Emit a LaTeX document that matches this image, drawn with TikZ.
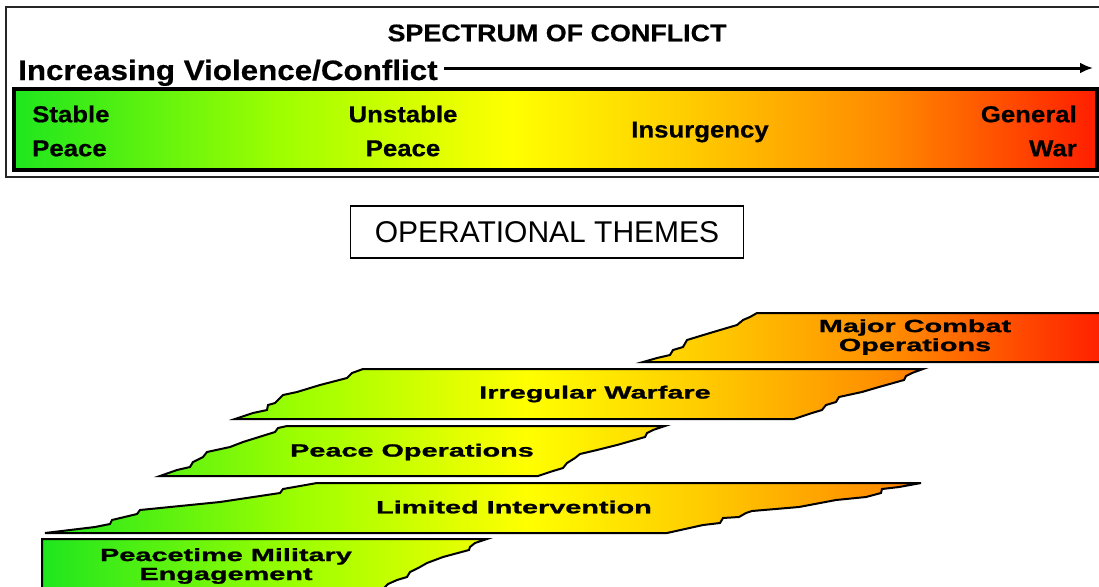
\documentclass[tikz,border=0pt]{standalone}
\usepackage{fontspec}
\setmainfont{Liberation Sans}
\newfontfamily\widefont[FakeStretch=1.12,FakeBold=0.6]{Liberation Sans}
\newfontfamily\bandfont[FakeStretch=1.63,FakeBold=1.2]{Liberation Sans}
\usepackage{tikz}
\usetikzlibrary{arrows.meta}

\definecolor{spgreen}{RGB}{30,230,30}
\definecolor{spchart}{RGB}{160,255,0}
\definecolor{spyellow}{RGB}{255,255,0}
\definecolor{spamber}{RGB}{255,205,0}
\definecolor{sporange}{RGB}{255,140,0}
\definecolor{spred}{RGB}{255,30,0}
\pgfdeclarehorizontalshading{spectrum}{100bp}{color(0bp)=(spgreen); color(25bp)=(spgreen); color(37.5bp)=(spchart); color(48bp)=(spyellow); color(56bp)=(spamber); color(65bp)=(sporange); color(75bp)=(spred); color(100bp)=(spred)}

\begin{document}
\begin{tikzpicture}[x=1pt,y=-1pt,
  plain/.style={inner sep=0pt},
  spectext/.style={inner sep=0pt,font=\widefont\bfseries\fontsize{23}{34}\selectfont},
  themetext/.style={inner sep=0pt,align=center,font=\bandfont\bfseries\fontsize{17.7}{19}\selectfont},
  theme/.style={draw=black,line width=2pt,line join=miter,
    path picture={\shade[shading=spectrum] (40,300) rectangle (1099,590);}}]
  \fill[white] (0,0) rectangle (1099,586);
  \useasboundingbox (0,0) rectangle (1099,586);

  \draw[line width=2.5pt,draw=black!85] (6,7) rectangle (1104,177);
  \shadedraw[shading=spectrum,line width=3.2pt] (14,89) rectangle (1097,170);

  \node (title) at (557,33) [plain,font=\widefont\bfseries\fontsize{24}{28}\selectfont] {SPECTRUM OF CONFLICT};
  \node (increase) at (18,80) [plain,anchor=base west,font=\widefont\bfseries\fontsize{28}{32}\selectfont] {Increasing Violence/Conflict};
  \coordinate (arrowend) at (1093,68);
  \draw[line width=3pt,-{Latex[length=13pt,width=11pt]}] ([xshift=6pt]increase.east |- arrowend) -- (arrowend);

  \node (stable) at (32,131) [spectext,anchor=west,align=left] {Stable\\Peace};
  \node (unstable) at (403,131) [spectext,align=center] {Unstable\\Peace};
  \node (insurgency) at (700,132) [spectext] {Insurgency};
  \node (general) at (1077,131) [spectext,anchor=east,align=right] {General\\War};

  \node (themes) at (547,232) [draw,line width=1.5pt,minimum width=393pt,minimum height=52pt,font=\fontsize{30}{34}\selectfont] {OPERATIONAL THEMES};

  \draw[theme] (757,313) -- (1105,313) -- (1105,362) -- (643,362) -- (657,358) -- (670,355) -- (673,350)
    -- (683,347) -- (687,340) -- (710,333) -- (737,325) -- (743,320) -- (750,317) -- cycle;
  \node (combat) at (915,337) [themetext] {Major Combat\\Operations};

  \draw[theme] (363,369) -- (923,369) -- (912,373) -- (906,376) -- (904,380) -- (879,387) -- (862,392)
    -- (839,397) -- (836,402) -- (826,405) -- (822,410) -- (812,413) -- (794,419) -- (235,419)
    -- (253,413) -- (267,410) -- (268,405) -- (275,403) -- (278,400) -- (283,395) -- (297,392)
    -- (320,385) -- (347,378) -- (352,373) -- cycle;
  \node (irregular) at (595,394) [themetext] {Irregular Warfare};

  \draw[theme] (287,426) -- (665,426) -- (653,430) -- (647,433) -- (645,437) -- (617,445) -- (597,450)
    -- (580,454) -- (575,458) -- (567,463) -- (563,468) -- (553,471) -- (538,476) -- (160,476)
    -- (177,470) -- (190,467) -- (193,462) -- (203,457) -- (207,452) -- (230,447) -- (243,442)
    -- (275,432) -- (278,428) -- cycle;
  \node (peace) at (412,452) [themetext] {Peace Operations};

  \draw[theme] (317,483) -- (921,483) -- (899,487) -- (882,489) -- (881,493) -- (866,497) -- (836,500)
    -- (799,507) -- (752,511) -- (746,513) -- (739,517) -- (723,518) -- (720,523) -- (703,525)
    -- (667,533) -- (45,533) -- (95,527) -- (110,524) -- (112,520) -- (137,514) -- (140,510)
    -- (220,502) -- (280,493) -- (283,489) -- cycle;
  \node (limited) at (514,507) [themetext] {Limited Intervention};

  \draw[theme] (42,539) -- (487,539) -- (475,543) -- (470,547) -- (469,550) -- (443,557) -- (427,563)
    -- (420,567) -- (410,572) -- (407,577) -- (397,580) -- (388,584) -- (380,592) -- (42,592) -- cycle;
  \node (peacetime) at (226,566) [themetext] {Peacetime Military\\Engagement};
\end{tikzpicture}
\end{document}
